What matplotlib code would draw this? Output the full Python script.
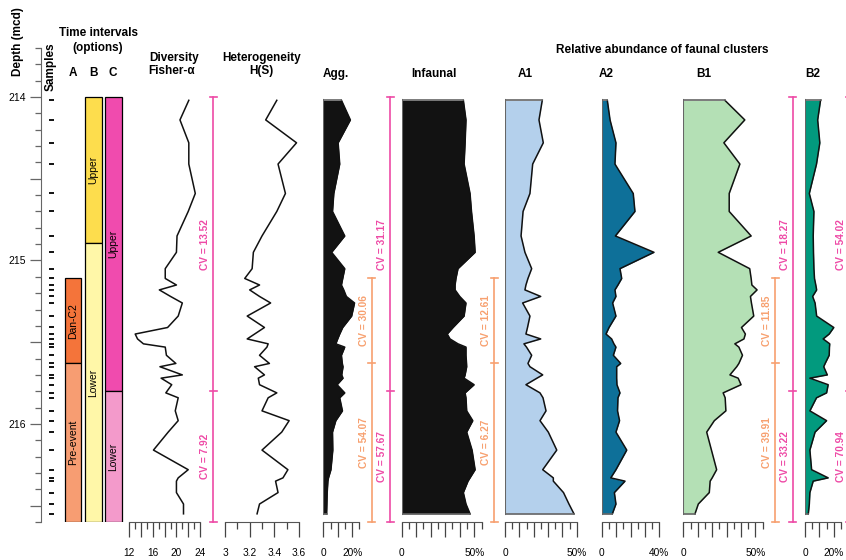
import matplotlib
matplotlib.use('Agg')
import matplotlib.pyplot as plt
from matplotlib.ticker import FixedLocator, FixedFormatter
import numpy as np

plt.rcParams['font.family'] = ['Liberation Sans', 'DejaVu Sans']

W, H = 846, 560
TOP, BOT = 213.7, 216.6
Y0, Y1 = 48, 522  # pixel rows of TOP and BOT

# sample depths (mcd)
depth = [214.02, 214.14, 214.28, 214.41, 214.59, 214.70, 214.85, 214.95, 215.05, 215.11,
         215.15, 215.18, 215.22, 215.26, 215.34, 215.41, 215.45, 215.48, 215.51, 215.53,
         215.58, 215.63, 215.65, 215.70, 215.72, 215.76, 215.81, 215.84, 215.92, 215.98,
         216.05, 216.16, 216.28, 216.33, 216.35, 216.42, 216.49, 216.55]

fisher = [22.1, 20.6, 22.1, 22.1, 23.2, 22.0, 20.1, 20.0, 18.1, 18.1,
          20.0, 17.1, 19.0, 21.0, 20.3, 18.5, 13.0, 13.4, 14.4, 18.1,
          18.3, 19.9, 17.2, 21.0, 17.4, 19.2, 18.2, 20.3, 19.8, 20.3,
          18.6, 16.1, 22.0, 20.3, 20.0, 20.0, 21.2, 21.2]
hs = [3.42, 3.33, 3.58, 3.43, 3.49, 3.42, 3.30, 3.23, 3.22, 3.16,
      3.28, 3.20, 3.28, 3.37, 3.18, 3.32, 3.24, 3.18, 3.35, 3.34,
      3.28, 3.36, 3.24, 3.32, 3.27, 3.28, 3.42, 3.35, 3.30, 3.52,
      3.46, 3.30, 3.51, 3.47, 3.41, 3.43, 3.28, 3.26]
agg = [12.6, 18.8, 10.3, 11.4, 7.3, 6.4, 14.9, 5.8, 14.9, 13.5,
       12.6, 14.2, 16.0, 21.7, 19.7, 13.5, 11.4, 10.0, 8.7, 14.9,
       12.6, 13.2, 13.7, 12.8, 13.7, 9.6, 14.9, 11.4, 13.3, 8.7,
       6.4, 6.6, 5.3, 3.6, 3.2, 2.7, 2.5, 2.3]
infaunal = [42.5, 44.3, 43.7, 43.0, 47.1, 48.1, 49.9, 50.6, 38.8, 37.4,
            36.8, 36.8, 40.0, 44.3, 43.0, 35.4, 31.4, 33.3, 38.8, 44.3,
            44.3, 44.7, 44.8, 43.7, 43.0, 49.9, 43.7, 44.3, 44.8, 49.0,
            44.8, 48.5, 50.6, 47.1, 45.7, 42.5, 44.3, 47.1]
a1 = [26.0, 23.7, 26.7, 19.3, 17.4, 12.6, 11.2, 13.9, 18.6, 16.0,
      14.6, 13.9, 24.9, 12.3, 17.4, 15.7, 14.6, 24.9, 13.2, 15.0,
      18.6, 16.0, 17.4, 26.3, 22.3, 14.6, 24.4, 26.5, 28.6, 24.4,
      30.2, 36.1, 26.3, 33.7, 33.7, 40.8, 44.6, 48.1]
a2 = [3.9, 5.8, 9.9, 9.2, 21.9, 23.1, 9.5, 36.3, 12.7, 13.9,
      11.3, 9.2, 9.9, 7.6, 9.9, 5.1, 3.0, 6.9, 8.5, 9.9,
      8.1, 13.2, 10.4, 10.4, 10.4, 10.6, 12.7, 11.3, 11.0, 12.4,
      9.9, 17.4, 9.9, 6.3, 16.2, 8.8, 9.9, 7.4]
b1 = [28.8, 42.6, 28.1, 39.2, 31.8, 31.8, 47.0, 24.2, 46.0, 47.0,
      47.5, 51.1, 46.5, 47.2, 48.8, 40.3, 43.0, 42.0, 35.7, 38.5,
      41.0, 38.5, 37.0, 32.3, 38.0, 40.0, 27.6, 29.0, 29.5, 21.5,
      16.2, 19.5, 23.1, 20.0, 18.6, 18.0, 10.4, 8.1]
b2 = [10.8, 8.8, 10.3, 8.0, 3.0, 6.2, 5.7, 5.9, 6.2, 6.6,
      7.5, 8.1, 5.3, 7.0, 8.1, 20.0, 16.8, 12.6, 17.2, 17.0,
      16.8, 14.0, 13.0, 15.5, 3.4, 16.1, 15.0, 8.0, 3.4, 15.0,
      7.0, 3.4, 4.6, 16.1, 5.7, 3.4, 3.0, 2.3]

# time interval options
opt_a_labels = ['Dan-C2', 'Pre-event']
opt_a_edges = [215.11, 215.63, 216.6]
opt_b_labels = ['Upper', 'Lower']
opt_b_edges = [214.0, 214.895, 216.6]
opt_c_labels = ['Upper', 'Lower']
opt_c_edges = [214.0, 215.8, 216.6]

# coefficients of variation per interval
cv_fisher_c = [13.52, 7.92]
cv_agg_a = [30.06, 54.07]
cv_agg_c = [31.17, 57.67]
cv_a1_a = [12.61, 6.27]
cv_b1_a = [11.85, 39.91]
cv_b1_c = [18.27, 33.22]
cv_b2_c = [54.02, 70.94]

MAG = '#EE4AA6'
ORA = '#F7A06F'

fig = plt.figure(figsize=(W / 100, H / 100), dpi=100)


def add_ax(x0, x1, z=1):
    ax = fig.add_axes([x0 / W, 1 - Y1 / H, (x1 - x0) / W, (Y1 - Y0) / H], zorder=z)
    ax.set_ylim(BOT, TOP)
    ax.patch.set_alpha(0)
    return ax


def ftext(x, y, s, **kw):
    fig.text(x / W, 1 - y / H, s, **kw)


# overlay in pixel x / depth y
ov = add_ax(0, W, z=0)
ov.set_xlim(0, W)
ov.axis('off')

# depth axis
dax = add_ax(41, 42)
for s in ['top', 'right', 'bottom']:
    dax.spines[s].set_visible(False)
dax.spines['left'].set_color('#666')
dax.spines['left'].set_bounds(TOP, BOT)
dax.set_xticks([])
maj = [214, 214.5, 215, 215.5, 216, 216.5]
dax.yaxis.set_major_locator(FixedLocator(maj))
dax.yaxis.set_major_formatter(FixedFormatter(['214', '', '215', '', '216', '']))
dax.yaxis.set_minor_locator(FixedLocator(np.round(np.arange(213.7, 216.61, 0.1), 1)))
dax.tick_params(axis='y', which='major', length=8, width=0.9, color='#666', labelsize=7.5, pad=3)
dax.tick_params(axis='y', which='minor', length=4.5, width=0.9, color='#666')

# samples
ov.hlines(depth, 49, 53.5, color='k', lw=1.3)

# time interval bars
for xc, labels, edges, cols in [(73.3, opt_a_labels, opt_a_edges, ['#F4743A', '#F79D72']),
                                (93.5, opt_b_labels, opt_b_edges, ['#FDDD4D', '#FFF7A8']),
                                (113.5, opt_c_labels, opt_c_edges, ['#F04BAE', '#F39ACB'])]:
    for i, lab in enumerate(labels):
        d0, d1 = edges[i], edges[i + 1]
        ov.bar(xc, d1 - d0, bottom=d0, width=16.2, color=cols[i], edgecolor='k', lw=0.9)
        ov.text(xc, (d0 + d1) / 2, lab, rotation=90, ha='center', va='center', fontsize=7.5)


def cv_bracket(x, edges, vals, color):
    ov.plot([x, x], [edges[0], edges[-1]], color=color, lw=1.2, clip_on=False)
    for e in edges:
        ov.plot([x - 3.5, x + 3.5], [e, e], color=color, lw=1.2, clip_on=False)
    for i, v in enumerate(vals):
        ov.text(x - 8, (edges[i] + edges[i + 1]) / 2, f'CV = {v:.2f}', rotation=90,
                ha='center', va='center', fontsize=7.3, fontweight='bold', color=color,
                clip_on=False)


cv_bracket(213, opt_c_edges, cv_fisher_c, MAG)
cv_bracket(371.7, opt_a_edges, cv_agg_a, ORA)
cv_bracket(390, opt_c_edges, cv_agg_c, MAG)
cv_bracket(494, opt_a_edges, cv_a1_a, ORA)
cv_bracket(775, opt_a_edges, cv_b1_a, ORA)
cv_bracket(792.7, opt_c_edges, cv_b1_c, MAG)
cv_bracket(849, opt_c_edges, cv_b2_c, MAG)


def panel(x0, x1, lim, major, minor, labels):
    ax = add_ax(x0, x1)
    ax.set_xlim(*lim)
    for s in ['top', 'right', 'left']:
        ax.spines[s].set_visible(False)
    ax.spines['bottom'].set_bounds(*lim)
    ax.spines['bottom'].set_color('#555')
    ax.set_yticks([])
    ax.xaxis.set_major_locator(FixedLocator(major))
    ax.xaxis.set_major_formatter(FixedFormatter(labels))
    ax.xaxis.set_minor_locator(FixedLocator(minor))
    ax.tick_params(axis='x', which='major', length=10.5, width=0.9, color='#444',
                   labelsize=7.3, pad=8)
    ax.tick_params(axis='x', which='minor', length=5, width=0.9, color='#444')
    return ax


def pct_panel(x0, x1, vmax, lab):
    major = list(range(0, vmax + 1, 10))
    minor = list(range(5, vmax + 1, 10))
    labels = ['0' if m == 0 else (f'{lab}%' if m == lab else '') for m in major]
    return panel(x0, x1, (0, vmax), major, minor, labels)


def fill_curve(ax, vals, color):
    ax.fill_betweenx(depth, 0, vals, color=color, lw=0)
    ax.plot(vals, depth, color='#111', lw=1.1, clip_on=False)
    edge = '#666'
    ax.plot([0, 0], [depth[0], depth[-1]], color=edge, lw=1.5)
    ax.plot([0, vals[0]], [depth[0], depth[0]], color=edge, lw=1.2)
    ax.plot([0, vals[-1]], [depth[-1], depth[-1]], color=edge, lw=1.2)


# Fisher alpha
ax = panel(129.3, 200, (12, 24), list(range(12, 25, 2)), list(range(13, 24, 2)),
           ['12', '', '16', '', '20', '', '24'])
ax.plot(fisher, depth, color='#111', lw=1.1, clip_on=False)

# H(S)
ax = panel(225, 299, (3, 3.6), [3.0, 3.2, 3.4, 3.6], [3.1, 3.3, 3.5],
           ['3', '3.2', '3.4', '3.6'])
ax.plot(hs, depth, color='#111', lw=1.1, clip_on=False)

ax = pct_panel(323.3, 359.3, 25, 20)
fill_curve(ax, agg, '#121212')
ax = pct_panel(401.7, 481.5, 55, 50)
fill_curve(ax, infaunal, '#121212')
ax = pct_panel(505, 576.7, 50, 50)
fill_curve(ax, a1, '#B4D0EC')
ax = pct_panel(601.7, 659.3, 40, 40)
fill_curve(ax, a2, '#0E7099')
ax = pct_panel(683.3, 762.7, 55, 50)
fill_curve(ax, b1, '#B4E0B5')
ax = pct_panel(805, 841, 25, 20)
fill_curve(ax, b2, '#029A7E')

# titles
bold = dict(fontweight='bold', fontsize=8.5, ha='center', va='center')
ftext(18, 42, 'Depth (mcd)', rotation=90, **bold)
ftext(50.5, 67, 'Samples', rotation=90, **bold)
ftext(98, 32.5, 'Time intervals', **bold)
ftext(98, 47.5, '(options)', **bold)
for x, s in [(73, 'A'), (93, 'B'), (113, 'C')]:
    ftext(x, 73, s, **bold)
ftext(174, 58, 'Diversity', **bold)
ftext(172, 71, 'Fisher-α', **bold)
ftext(262, 58, 'Heterogeneity', **bold)
ftext(261, 71, 'H(S)', **bold)
for x, s in [(336, 'Agg.'), (434, 'Infaunal'), (525, 'A1'), (606, 'A2'), (704, 'B1'), (813, 'B2')]:
    ftext(x, 74, s, **bold)
ftext(662, 50, 'Relative abundance of faunal clusters', **bold)

fig.savefig('out.png', dpi=100)
